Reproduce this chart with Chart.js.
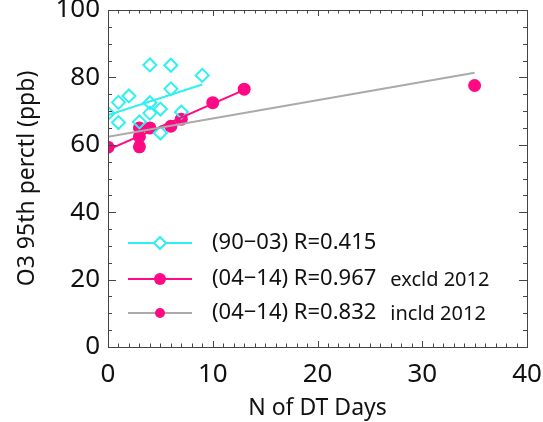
<!DOCTYPE html>
<html>
<head>
<meta charset="utf-8">
<script src="https://cdn.jsdelivr.net/npm/chart.js@4.4.0/dist/chart.umd.min.js"></script>
<style>
  html, body { margin: 0; padding: 0; background: #fff; }
  #wrap { width: 543px; height: 422px; }
</style>
</head>
<body>
<div id="wrap"><canvas id="c" width="543" height="422"></canvas></div>
<script>
// valores
const xTicks = [0, 10, 20, 30, 40];
const yTicks = [0, 20, 40, 60, 80, 100];

// (90-03) losangos ciano
const cianoX = [0, 1, 1, 2, 3, 4, 4, 4, 5, 5, 6, 6, 7, 9];
const cianoY = [69.3, 72.6, 66.6, 74.5, 66.8, 83.7, 72.5, 69.4, 70.6, 63.5, 83.6, 76.6, 69.7, 80.6];

// (04-14) bolinhas magenta
const magentaX = [0, 3, 3, 3, 4, 6, 7, 10, 13, 35];
const magentaY = [59.3, 59.4, 62.4, 65.0, 65.0, 65.5, 67.6, 72.5, 76.5, 77.6];

// retas de ajuste (pontas)
const retaCianoX = [0, 9];
const retaCianoY = [68.8, 77.9];
const retaMagentaX = [0, 13];
const retaMagentaY = [58.5, 76.3];
const retaCinzaX = [0, 35];
const retaCinzaY = [62.4, 81.4];

const legendas = [
  { txt: "(90\u221203) R=0.415", extra: "" },
  { txt: "(04\u221214) R=0.967", extra: "excld 2012" },
  { txt: "(04\u221214) R=0.832", extra: "incld 2012" }
];

const CIANO = "#2ef0f0";
const MAGENTA = "#ff0a84";
const CINZA = "#aaaaaa";
const FONTE = "'Noto Sans', sans-serif";

const pares = (xs, ys) => xs.map((x, i) => ({ x: x, y: ys[i] }));

// ticks para dentro nos quatro lados + moldura + legenda
const moldura = {
  id: "moldura",
  afterDatasetsDraw(chart) {
    const c = chart.ctx;
    const a = chart.chartArea;
    const sx = chart.scales.x, sy = chart.scales.y;
    c.save();
    c.strokeStyle = "#444";
    c.lineWidth = 1;
    c.beginPath();
    for (let v = 0; v <= 40; v += 1) {
      const px = Math.round(sx.getPixelForValue(v)) + 0.5;
      const len = v % 10 === 0 ? 6 : 3.5;
      c.moveTo(px, a.bottom); c.lineTo(px, a.bottom - len);
      c.moveTo(px, a.top); c.lineTo(px, a.top + len);
    }
    for (let v = 0; v <= 100; v += 5) {
      const py = Math.round(sy.getPixelForValue(v)) + 0.5;
      const len = v % 20 === 0 ? 8 : 4;
      c.moveTo(a.left, py); c.lineTo(a.left + len, py);
      c.moveTo(a.right, py); c.lineTo(a.right - len, py);
    }
    c.stroke();
    c.strokeRect(Math.round(a.left) + 0.5, Math.round(a.top) + 0.5, Math.round(a.right - a.left), Math.round(a.bottom - a.top));

    // legenda
    const linhas = [243, 279, 313];
    const cores = [CIANO, MAGENTA, CINZA];
    linhas.forEach((y, i) => {
      c.strokeStyle = cores[i];
      c.lineWidth = 2;
      c.beginPath(); c.moveTo(128, y); c.lineTo(192, y); c.stroke();
      c.beginPath();
      if (i === 0) {
        c.moveTo(160, y - 6); c.lineTo(166, y); c.lineTo(160, y + 6); c.lineTo(154, y); c.closePath();
        c.fillStyle = "#fff"; c.fill();
        c.strokeStyle = CIANO; c.stroke();
      } else {
        c.arc(160, y, i === 1 ? 6 : 5, 0, Math.PI * 2);
        c.fillStyle = MAGENTA; c.fill();
      }
      c.fillStyle = "#111";
      c.textBaseline = "middle";
      c.font = "22px " + FONTE;
      c.fillText(legendas[i].txt, 212, y);
      if (legendas[i].extra) {
        const w = c.measureText(legendas[i].txt).width;
        c.font = "20px " + FONTE;
        c.fillText(legendas[i].extra, 212 + w + 14, y + 1);
      }
    });
    c.restore();
  }
};

new Chart(document.getElementById("c"), {
  type: "scatter",
  data: {
    datasets: [
      { data: pares(retaCinzaX, retaCinzaY), showLine: true, borderColor: CINZA, borderWidth: 2, pointRadius: 0 },
      { data: pares(retaMagentaX, retaMagentaY), showLine: true, borderColor: MAGENTA, borderWidth: 2, pointRadius: 0 },
      { data: pares(retaCianoX, retaCianoY), showLine: true, borderColor: CIANO, borderWidth: 2, pointRadius: 0 },
      { data: pares(cianoX, cianoY), pointStyle: "rectRot", pointRadius: 6.5, borderColor: CIANO, borderWidth: 2, backgroundColor: "rgba(255,255,255,0)" },
      { data: pares(magentaX, magentaY), pointStyle: "circle", pointRadius: 6.5, borderWidth: 0, backgroundColor: MAGENTA, borderColor: MAGENTA }
    ]
  },
  options: {
    responsive: false,
    animation: false,
    layout: { padding: { top: 10, right: 16 } },
    plugins: { legend: { display: false }, tooltip: { enabled: false } },
    scales: {
      x: {
        min: 0, max: 40,
        afterFit: s => { s.height = 75; s.paddingLeft = 0; s.paddingRight = 0; },
        afterBuildTicks: s => { s.ticks = xTicks.map(v => ({ value: v })); },
        grid: { display: false, drawTicks: false },
        border: { display: false },
        ticks: { padding: 12, color: "#111", font: { family: FONTE, size: 26 } },
        title: { display: true, text: "N of DT Days", color: "#111", font: { family: FONTE, size: 23 }, padding: { top: 0, bottom: 0 } }
      },
      y: {
        min: 0, max: 100,
        afterFit: s => { s.width = 108; s.paddingTop = 0; s.paddingBottom = 0; },
        afterBuildTicks: s => { s.ticks = yTicks.map(v => ({ value: v })); },
        grid: { display: false, drawTicks: false },
        border: { display: false },
        ticks: { padding: 8, color: "#111", font: { family: FONTE, size: 26 } },
        title: { display: true, text: "O3 95th perctl (ppb)", color: "#111", font: { family: FONTE, size: 23 }, padding: { top: 14, bottom: 0 } }
      }
    }
  },
  plugins: [moldura]
});
</script>
</body>
</html>
